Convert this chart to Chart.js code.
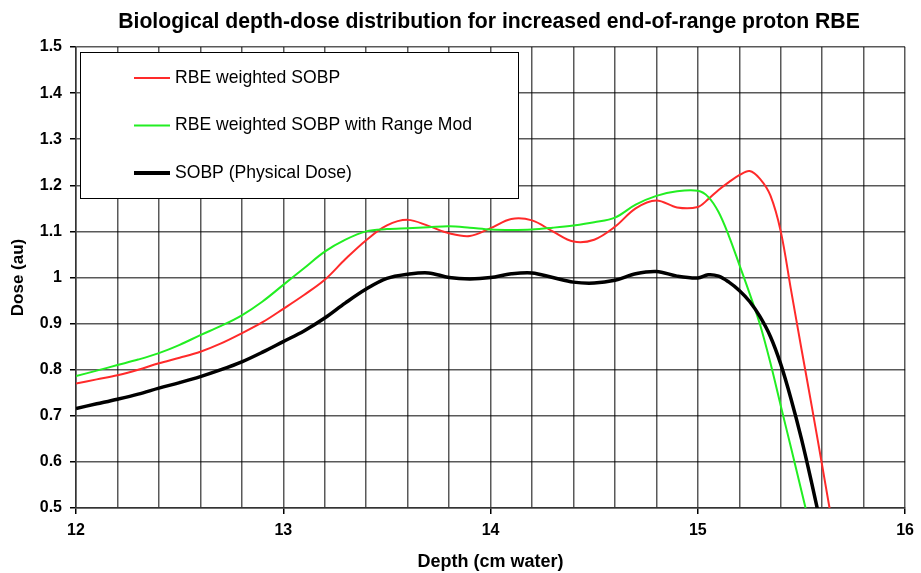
<!DOCTYPE html>
<html>
<head>
<meta charset="utf-8">
<script src="https://cdn.jsdelivr.net/npm/chart.js@4/dist/chart.umd.min.js"></script>
<style>
  html, body { margin: 0; padding: 0; background: #fff; }
  #wrap { width: 921px; height: 573px; }
</style>
</head>
<body>
<div id="wrap"><canvas id="doseChart" width="921" height="573"></canvas></div>
<script>
// depth grid (cm water)
var depth = [12.0, 12.1, 12.2, 12.3, 12.4, 12.5, 12.6, 12.7, 12.8, 12.9,
    13.0, 13.1, 13.2, 13.3, 13.4, 13.5, 13.6, 13.7, 13.8, 13.9,
    14.0, 14.1, 14.2, 14.3, 14.4, 14.5, 14.6, 14.7, 14.8, 14.9,
    15.0, 15.05, 15.1, 15.15, 15.2, 15.25, 15.3, 15.35, 15.4, 15.45, 15.5, 15.55, 15.6, 15.65];

var rbeSobp = [0.770, 0.779, 0.788, 0.800, 0.814, 0.826, 0.839, 0.857, 0.879, 0.903,
    0.932, 0.962, 0.995, 1.040, 1.081, 1.113, 1.125, 1.112, 1.096, 1.090,
    1.107, 1.127, 1.124, 1.100, 1.078, 1.082, 1.110, 1.150, 1.167, 1.152,
    1.153, 1.170, 1.190, 1.207, 1.222, 1.231, 1.214, 1.178, 1.100, 0.972, 0.845, 0.720, 0.592, 0.462];

var rbeRangeMod = [0.786, 0.798, 0.810, 0.822, 0.836, 0.854, 0.875, 0.895, 0.918, 0.948,
    0.984, 1.020, 1.056, 1.082, 1.100, 1.105, 1.107, 1.109, 1.111, 1.108,
    1.104, 1.103, 1.104, 1.108, 1.113, 1.120, 1.130, 1.158, 1.177, 1.187,
    1.188, 1.175, 1.142, 1.090, 1.028, 0.965, 0.898, 0.815, 0.722, 0.630, 0.537, 0.443, null, null];

var physicalSobp = [0.716, 0.726, 0.736, 0.747, 0.760, 0.772, 0.785, 0.800, 0.817, 0.838,
    0.861, 0.884, 0.912, 0.945, 0.975, 0.998, 1.007, 1.010, 1.000, 0.997,
    1.000, 1.008, 1.010, 1.000, 0.990, 0.988, 0.994, 1.008, 1.013, 1.003,
    0.999, 1.006, 1.003, 0.990, 0.972, 0.948, 0.915, 0.872, 0.812, 0.736, 0.650, 0.553, 0.450, null];

var seriesNames = ['RBE weighted SOBP', 'RBE weighted SOBP with Range Mod', 'SOBP (Physical Dose)'];
var seriesColors = ['#ff2a2a', '#22ee22', '#000000'];
var seriesWidths = [2, 2, 3.5];

var titleText = 'Biological depth-dose distribution for increased end-of-range proton RBE';
var FONT = 'Arial, "Liberation Sans", sans-serif';

function toPoints(values) {
    var pts = [];
    depth.forEach(function (d, i) {
        if (values[i] !== null) pts.push({ x: d, y: values[i] });
    });
    return pts;
}

// pick a font size so that text spans the wanted width
function fitFont(ctx, text, weight, width) {
    ctx.font = weight + ' 20px ' + FONT;
    var size = 20 * width / ctx.measureText(text).width;
    ctx.font = weight + ' ' + size.toFixed(2) + 'px ' + FONT;
}

// title centred over the plot area
var titlePlugin = {
    id: 'plotTitle',
    afterDraw: function (chart) {
        var ctx = chart.ctx;
        ctx.save();
        fitFont(ctx, titleText, 'bold', 742);
        ctx.fillStyle = '#000';
        ctx.textAlign = 'center';
        ctx.textBaseline = 'middle';
        ctx.fillText(titleText, 489, 22);
        ctx.restore();
    }
};

// boxed legend inside the plot, top left
var boxLegend = {
    id: 'boxLegend',
    beforeDatasetsDraw: function (chart) {
        var ctx = chart.ctx;
        var x0 = 80, y0 = 52, w = 438, h = 146;
        ctx.save();
        ctx.fillStyle = '#fff';
        ctx.fillRect(x0, y0, w, h);
        ctx.strokeStyle = '#000';
        ctx.lineWidth = 1;
        ctx.strokeRect(x0 + 0.5, y0 + 0.5, w, h);
        fitFont(ctx, seriesNames[1], 'normal', 297);
        ctx.textBaseline = 'middle';
        seriesNames.forEach(function (name, i) {
            var y = 78 + i * 47.5;
            ctx.strokeStyle = seriesColors[i];
            ctx.lineWidth = seriesWidths[i] + (i === 2 ? 0.5 : 0);
            ctx.beginPath();
            ctx.moveTo(134, y);
            ctx.lineTo(170, y);
            ctx.stroke();
            ctx.fillStyle = '#000';
            ctx.fillText(name, 175, y);
        });
        ctx.restore();
    }
};

var datasets = seriesNames.map(function (name, i) {
    return {
        label: name,
        data: toPoints([rbeSobp, rbeRangeMod, physicalSobp][i]),
        borderColor: seriesColors[i],
        borderWidth: seriesWidths[i],
        pointRadius: 0,
        tension: 0.35,
        fill: false,
        order: 2 - i   // black drawn on top
    };
});

var axisFont = { family: FONT, size: 16, weight: 'bold' };

new Chart(document.getElementById('doseChart').getContext('2d'), {
    type: 'line',
    data: { datasets: datasets },
    options: {
        responsive: false,
        animation: false,
        layout: { padding: { top: 47, right: 11, left: 0, bottom: 0 } },
        plugins: {
            legend: { display: false },
            title: { display: false },
            tooltip: { enabled: false }
        },
        scales: {
            x: {
                type: 'linear',
                min: 12,
                max: 16,
                afterFit: function (scale) { scale.height = 65; },
                ticks: {
                    stepSize: 0.2,
                    autoSkip: false,
                    maxRotation: 0,
                    color: '#000',
                    padding: 7,
                    font: axisFont,
                    callback: function (v) {
                        return Math.abs(v - Math.round(v)) < 1e-6 ? String(Math.round(v)) : '';
                    }
                },
                grid: {
                    color: 'rgba(0,0,0,0.65)',
                    lineWidth: 1.5,
                    tickLength: 6,
                    tickColor: function (c) {
                        var v = c.tick ? c.tick.value : 0;
                        return Math.abs(v - Math.round(v)) < 1e-6 ? '#000' : 'rgba(0,0,0,0)';
                    }
                },
                border: { color: '#333', width: 1.5 },
                title: {
                    display: true,
                    text: 'Depth (cm water)',
                    color: '#000',
                    font: { family: FONT, size: 18, weight: 'bold' },
                    padding: { top: 0, bottom: 0 }
                }
            },
            y: {
                min: 0.5,
                max: 1.5,
                afterFit: function (scale) { scale.width = 76; },
                ticks: {
                    stepSize: 0.1,
                    color: '#000',
                    padding: 8,
                    font: axisFont,
                    callback: function (v) { return String(Number(v.toFixed(1))); }
                },
                grid: {
                    color: 'rgba(0,0,0,0.65)',
                    lineWidth: 1.5,
                    tickLength: 6,
                    tickColor: '#000'
                },
                border: { color: '#333', width: 1.5 },
                title: {
                    display: true,
                    text: 'Dose (au)',
                    color: '#000',
                    font: { family: FONT, size: 17, weight: 'bold' },
                    padding: { top: 8, bottom: 0 }
                }
            }
        }
    },
    plugins: [titlePlugin, boxLegend]
});
</script>
</body>
</html>
